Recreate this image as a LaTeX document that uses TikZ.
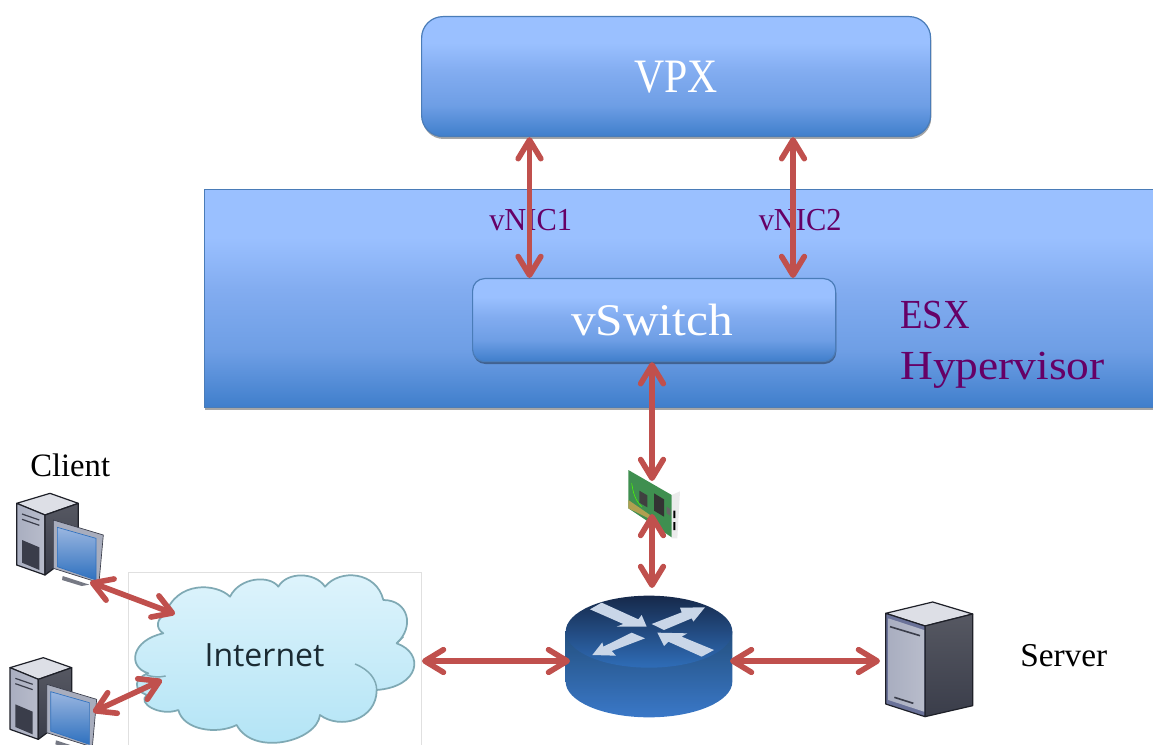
\documentclass[tikz,border=0pt]{standalone}
\usepackage{fontspec}
\setmainfont{Liberation Serif}
\newfontfamily\cloudfont{Open Sans}
\usetikzlibrary{arrows.meta,shadows,calc}
\definecolor{arrowred}{HTML}{C0504D}
\definecolor{boxline}{HTML}{4A7CB8}
\definecolor{labelpurple}{HTML}{660066}
\definecolor{gradtop}{HTML}{9AC0FF}
\definecolor{gradmid}{HTML}{82ACF0}
\definecolor{gradbot}{HTML}{3F7ECB}
\definecolor{cloudedge}{HTML}{7FA9B4}
\definecolor{cloudtop}{HTML}{DFF4FC}
\definecolor{cloudbot}{HTML}{B0E3F5}
\definecolor{inettext}{HTML}{1B2B33}
\definecolor{towertop}{HTML}{DDDFE6}
\definecolor{towerfl}{HTML}{A9AEC0}
\definecolor{towerfr}{HTML}{B8BCCB}
\definecolor{towerrim}{HTML}{6A7299}
\definecolor{towerst}{HTML}{565862}
\definecolor{towersb}{HTML}{3A3D4A}
\definecolor{iconedge}{HTML}{1E2028}
\definecolor{screentop}{HTML}{9AB6E0}
\definecolor{screenbot}{HTML}{2F71BF}
\definecolor{bezel}{HTML}{A8ADBD}
\definecolor{rtA}{HTML}{16294A}
\definecolor{rtB}{HTML}{2F6DB8}
\definecolor{rtC}{HTML}{24507F}
\definecolor{rtD}{HTML}{3A78C8}
\definecolor{rtarrow}{HTML}{C9D6E8}
\definecolor{nicgreen}{HTML}{3F8F50}
\definecolor{nicgold}{HTML}{B0A050}
\pgfdeclareverticalshading{boxgrad}{100bp}{color(0bp)=(gradbot); color(25bp)=(gradbot); color(38bp)=(gradmid!70!gradbot); color(52bp)=(gradmid); color(64bp)=(gradtop); color(100bp)=(gradtop)}
\newcommand{\fsz}[1]{\fontsize{#1}{#1}\selectfont}
\tikzset{
  x=0.75pt,y=-0.75pt,
  bluebox/.style={shading=boxgrad,draw=boxline,line width=0.9pt,inner sep=0pt,
    drop shadow={shadow xshift=0.5pt,shadow yshift=-1.8pt,opacity=0.35,fill=black}},
  conn/.style={draw=arrowred,line width=4.2pt,
    {Straight Barb[length=14pt,width=17pt,line cap=round,line join=round]}-{Straight Barb[length=14pt,width=17pt,line cap=round,line join=round]},
    preaction={draw=black,opacity=0.16,transform canvas={xshift=0.5pt,yshift=-1.3pt}}},
  whitelabel/.style={text=white,inner sep=0pt},
  purplelabel/.style={text=labelpurple,inner sep=0pt,anchor=base west},
  blacklabel/.style={text=black,inner sep=0pt,anchor=base west},
  zoomA/.style={shift={(0,440)},x=0.25pt,y=-0.25pt},
  zoomB/.style={shift={(540,450)},x=0.25pt,y=-0.25pt},
  edgeline/.style={draw=iconedge,line width=0.9pt,line join=round},
}
\newcommand{\computer}[2]{%
  \begin{scope}[zoomA,shift={(#1,#2)}]
    \fill[bezel!70!black] (188,408) -- (268,434) -- (245,438) -- (186,420) -- cycle;
    \path[edgeline,fill=towertop] (50,190) -- (150,160) -- (235,190) -- (135,225) -- cycle;
    \path[edgeline,left color=towerfl,right color=towerfr] (50,190) -- (135,225) -- (135,405) -- (50,375) -- cycle;
    \path[edgeline,top color=towerst,bottom color=towersb] (135,225) -- (235,190) -- (235,330) -- (135,405) -- cycle;
    \fill[towersb] (66,300) -- (118,322) -- (118,390) -- (66,368) -- cycle;
    \draw[towersb,line width=0.9pt] (66,222) -- (118,240) (66,238) -- (118,256);
    \path[draw=towersb,line width=0.5pt,fill=bezel] (160,240) -- (310,285) -- (297,428) -- (160,385) -- cycle;
    \path[draw=screenbot,line width=0.5pt,top color=screentop,bottom color=screenbot] (172,262) -- (288,295) -- (288,420) -- (172,380) -- cycle;
  \end{scope}}
\begin{document}
\begin{tikzpicture}
\useasboundingbox (0,0) rectangle (1153,745);
\clip (0,0) rectangle (1153,745);

% main boxes
\node[bluebox,rectangle,anchor=north west,minimum width=949*0.75pt,minimum height=218*0.75pt] (esx) at (204,189) {};
\node[bluebox,rounded corners=16pt,anchor=north west,minimum width=509*0.75pt,minimum height=120*0.75pt] (vpx) at (421,16) {};
\node[bluebox,rounded corners=9pt,anchor=north west,minimum width=363*0.75pt,minimum height=83*0.75pt] (vsw) at (472,278) {};
\node[whitelabel,font=\fsz{36}] (vpxt) at (676,77) {\scalebox{0.87}[1]{VPX}};
\node[whitelabel,font=\fsz{34}] (vswt) at (652,320) {\scalebox{1.09}[1]{vSwitch}};
\node[purplelabel,font=\fsz{24}] (vn1) at (489,231) {\scalebox{0.95}[1]{vNIC1}};
\node[purplelabel,font=\fsz{24}] (vn2) at (758.5,231) {\scalebox{0.95}[1]{vNIC2}};
\node[purplelabel,font=\fsz{31}] (esxa) at (900,329) {\scalebox{0.89}[1]{ESX}};
\node[purplelabel,font=\fsz{31}] (esxb) at (900,379) {\scalebox{1.1}[1]{Hypervisor}};
\node[blacklabel,font=\fsz{24.5}] (clt) at (30,476) {Client};
\node[blacklabel,font=\fsz{25}] (srv) at (1020,666) {Server};

% client computers
\computer{0}{0}
\computer{-20}{493}

% cloud frame and cloud
\node[draw=black!12,line width=0.5pt,fill=white,inner sep=0pt,anchor=north west,minimum width=293*0.75pt,minimum height=190*0.75pt] (cloudframe) at (128,571.5) {};
\begin{scope}[zoomA]
  \path[draw=cloudedge,line width=1.3pt,line join=round,top color=cloudtop,bottom color=cloudbot]
    (495,525) .. controls (530,420) and (650,430) .. (690,470)
    .. controls (720,410) and (810,405) .. (835,440)
    .. controls (860,395) and (945,395) .. (975,440)
    .. controls (1020,385) and (1130,395) .. (1150,480)
    .. controls (1225,480) and (1245,560) .. (1190,610)
    .. controls (1275,640) and (1260,740) .. (1130,750)
    .. controls (1130,840) and (1020,870) .. (960,825)
    .. controls (950,905) and (760,950) .. (710,855)
    .. controls (650,885) and (550,870) .. (535,810)
    .. controls (480,830) and (410,790) .. (440,765)
    .. controls (400,750) and (400,715) .. (445,700)
    .. controls (380,680) and (395,600) .. (490,580)
    .. controls (465,565) and (470,535) .. (495,525) -- cycle;
  \draw[cloudedge,line width=1.1pt] (1065,672) .. controls (1110,690) and (1130,720) .. (1130,750);
  \draw[cloudedge,line width=1.1pt] (440,705) .. controls (460,712) and (480,712) .. (497,708);
  \draw[cloudedge,line width=1.1pt] (1190,610) -- (1210,590);
\end{scope}
\node[inner sep=0pt,font=\cloudfont\fsz{24},text=inettext] (inet) at (264.5,655) {Internet};

% network card
\begin{scope}[zoomB]
  \fill[black!8] (395,135) -- (420,124) -- (412,265) -- (395,265) -- cycle;
  \fill[black] (400,182) rectangle (406,204) (400,216) rectangle (406,240);
  \path[fill=nicgreen] (265,60) -- (395,135) -- (395,262) -- (265,175) -- cycle;
  \fill[nicgold] (265,150) -- (330,195) -- (330,207) -- (265,175) -- cycle;
  \fill[black!75] (298,122) -- (322,136) -- (322,172) -- (298,158) -- cycle;
  \fill[black!80] (342,130) -- (372,148) -- (372,200) -- (342,182) -- cycle;
  \fill[black!60] (380,170) -- (392,178) -- (392,198) -- (380,190) -- cycle;
  \draw[green!70!yellow,line width=0.4pt] (275,100) .. controls (280,130) and (285,150) .. (305,170);
\end{scope}

% router
\begin{scope}[zoomB]
  \path[top color=rtC,bottom color=rtD]
    (77,545) -- (77,695) arc[start angle=180,end angle=0,x radius=250,y radius=107] -- (577,545) -- cycle;
  \path[top color=rtA,bottom color=rtB]
    (327,545) ellipse[x radius=250,y radius=108];
  \fill[rtarrow] (150,478) -- (185,458) -- (295,508) -- (305,495) -- (320,530) -- (230,530) -- (250,522) -- cycle;
  \fill[rtarrow] (335,522) -- (425,487) -- (420,473) -- (495,472) -- (460,515) -- (455,505) -- (372,540) -- cycle;
  \fill[rtarrow] (315,565) -- (275,548) -- (190,590) -- (187,577) -- (157,615) -- (228,617) -- (215,603) -- cycle;
  \fill[rtarrow] (522,600) -- (485,620) -- (385,575) -- (372,588) -- (352,548) -- (442,550) -- (425,560) -- cycle;
\end{scope}

% server
\begin{scope}[zoomB]
  \path[edgeline,fill=towertop] (1037,490) -- (1178,456) -- (1298,492) -- (1155,528) -- cycle;
  \path[edgeline,top color=towerst,bottom color=towersb] (1155,528) -- (1298,492) -- (1298,767) -- (1155,800) -- cycle;
  \path[edgeline,fill=towerrim] (1037,490) -- (1155,528) -- (1155,800) -- (1037,762) -- cycle;
  \path[left color=towerfl,right color=towerfr] (1045,505) -- (1152,540) -- (1152,785) -- (1045,750) -- cycle;
  \draw[towersb,line width=1.2pt] (1050,530) -- (1140,557) (1063,742) -- (1120,760);
\end{scope}

% connector ends
\coordinate (cl1) at (90,582);
\coordinate (cl1i) at (175,614);
\coordinate (cl2) at (93,712);
\coordinate (cl2i) at (162,680);
\coordinate (nicT) at (652,481);
\coordinate (nicB) at (652,514);
\coordinate (rtT) at (652,588);
\coordinate (rtL) at (570,661);
\coordinate (rtR) at (730,661);
\coordinate (inR) at (422,661);
\coordinate (srvL) at (880,661);

% connectors
\draw[conn] (vpx.south -| 529.5,0) -- (vsw.north -| 529.5,0);
\draw[conn] (vpx.south -| 793,0) -- (vsw.north -| 793,0);
\draw[conn] (vsw.south -| nicT) -- (nicT);
\draw[conn] (nicB) -- (rtT);
\draw[conn] (inR) -- (rtL);
\draw[conn] (rtR) -- (srvL);
\draw[conn] (cl1) -- (cl1i);
\draw[conn] (cl2) -- (cl2i);
\end{tikzpicture}
\end{document}
